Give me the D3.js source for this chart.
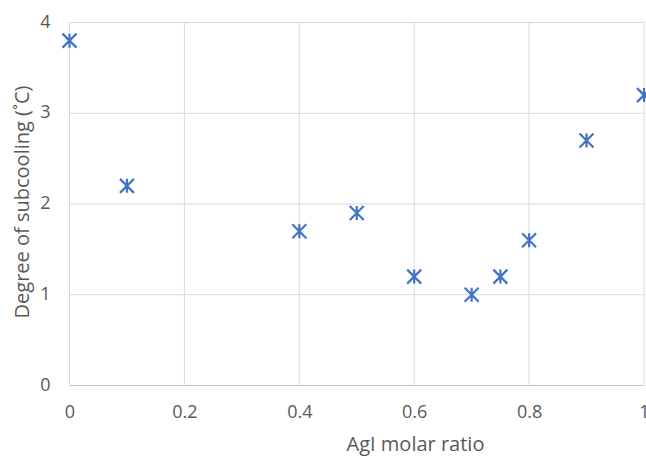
<!DOCTYPE html>
<html>
<head>
<meta charset="utf-8">
<script src="https://cdn.jsdelivr.net/npm/d3@7"></script>
<style>
  body { margin: 0; background: #fff; }
  text { font-family: "Open Sans", "Liberation Sans", sans-serif; fill: #595959; }
</style>
</head>
<body>
<div id="chart"></div>
<script>
// AgI molar ratio vs degree of subcooling
var ratio = [0, 0.1, 0.4, 0.5, 0.6, 0.7, 0.75, 0.8, 0.9, 1];
var subcooling = [3.8, 2.2, 1.7, 1.9, 1.2, 1.0, 1.2, 1.6, 2.7, 3.2];
var xTicks = [0, 0.2, 0.4, 0.6, 0.8, 1];
var yTicks = [0, 1, 2, 3, 4];

var width = 646;
var height = 457;
var plotLeft = 69.5, plotRight = 644, plotTop = 22.5, plotBottom = 385.5;
var markerColor = '#4472c4';
var gridColor = '#d9d9d9';
var fontFamily = '"Open Sans", "Liberation Sans", sans-serif';

var svg = d3.select('#chart').append('svg')
      .attr('width', width)
      .attr('height', height);

var xScale = d3.scaleLinear().domain([0, 1]).range([plotLeft, plotRight]);
var yScale = d3.scaleLinear().domain([0, 4]).range([plotBottom, plotTop]);

// gridlines
svg.append('g').selectAll('line')
      .data(yTicks)
      .enter().append('line')
      .attr('x1', plotLeft).attr('x2', plotRight)
      .attr('y1', d => yScale(d)).attr('y2', d => yScale(d))
      .style('stroke', d => d === 0 ? '#bfbfbf' : gridColor)
      .style('stroke-width', 1);

svg.append('g').selectAll('line')
      .data(xTicks)
      .enter().append('line')
      .attr('x1', d => xScale(d)).attr('x2', d => xScale(d))
      .attr('y1', plotTop).attr('y2', plotBottom)
      .style('stroke', gridColor)
      .style('stroke-width', 1);

// tick labels via d3 axes, no lines
var xAxis = d3.axisBottom(xScale).tickValues(xTicks).tickSize(0).tickPadding(20)
      .tickFormat(d3.format('~g'));
var yAxis = d3.axisLeft(yScale).tickValues(yTicks).tickSize(0).tickPadding(19)
      .tickFormat(d3.format('~g'));

var gx = svg.append('g').attr('transform', 'translate(0,' + plotBottom + ')').call(xAxis);
var gy = svg.append('g').attr('transform', 'translate(' + plotLeft + ',0)').call(yAxis);
[gx, gy].forEach(function (g) {
      g.select('.domain').remove();
      g.selectAll('text').style('font-size', '18px').style('fill', '#595959')
            .style('font-family', fontFamily);
});
gy.selectAll('text').attr('dy', '0.25em');

// titles
svg.append('text')
      .attr('x', 415.5)
      .attr('y', 451)
      .style('text-anchor', 'middle')
      .style('font-size', '20px')
      .text('AgI molar ratio');

svg.append('text')
      .attr('transform', 'rotate(-90)')
      .attr('x', -202)
      .attr('y', 29)
      .style('text-anchor', 'middle')
      .style('font-size', '20px')
      .text('Degree of subcooling (˚C)');

// star markers
var s = 7;
svg.append('g').selectAll('path')
      .data(ratio.map((r, i) => [r, subcooling[i]]))
      .enter().append('path')
      .attr('transform', d => 'translate(' + xScale(d[0]) + ',' + yScale(d[1]) + ')')
      .attr('d', 'M' + (-s) + ',' + (-s) + 'L' + s + ',' + s +
                 'M' + (-s) + ',' + s + 'L' + s + ',' + (-s) +
                 'M0,' + (-s) + 'L0,' + s)
      .style('stroke', markerColor)
      .style('stroke-width', 2.2)
      .style('fill', 'none');
</script>
</body>
</html>
